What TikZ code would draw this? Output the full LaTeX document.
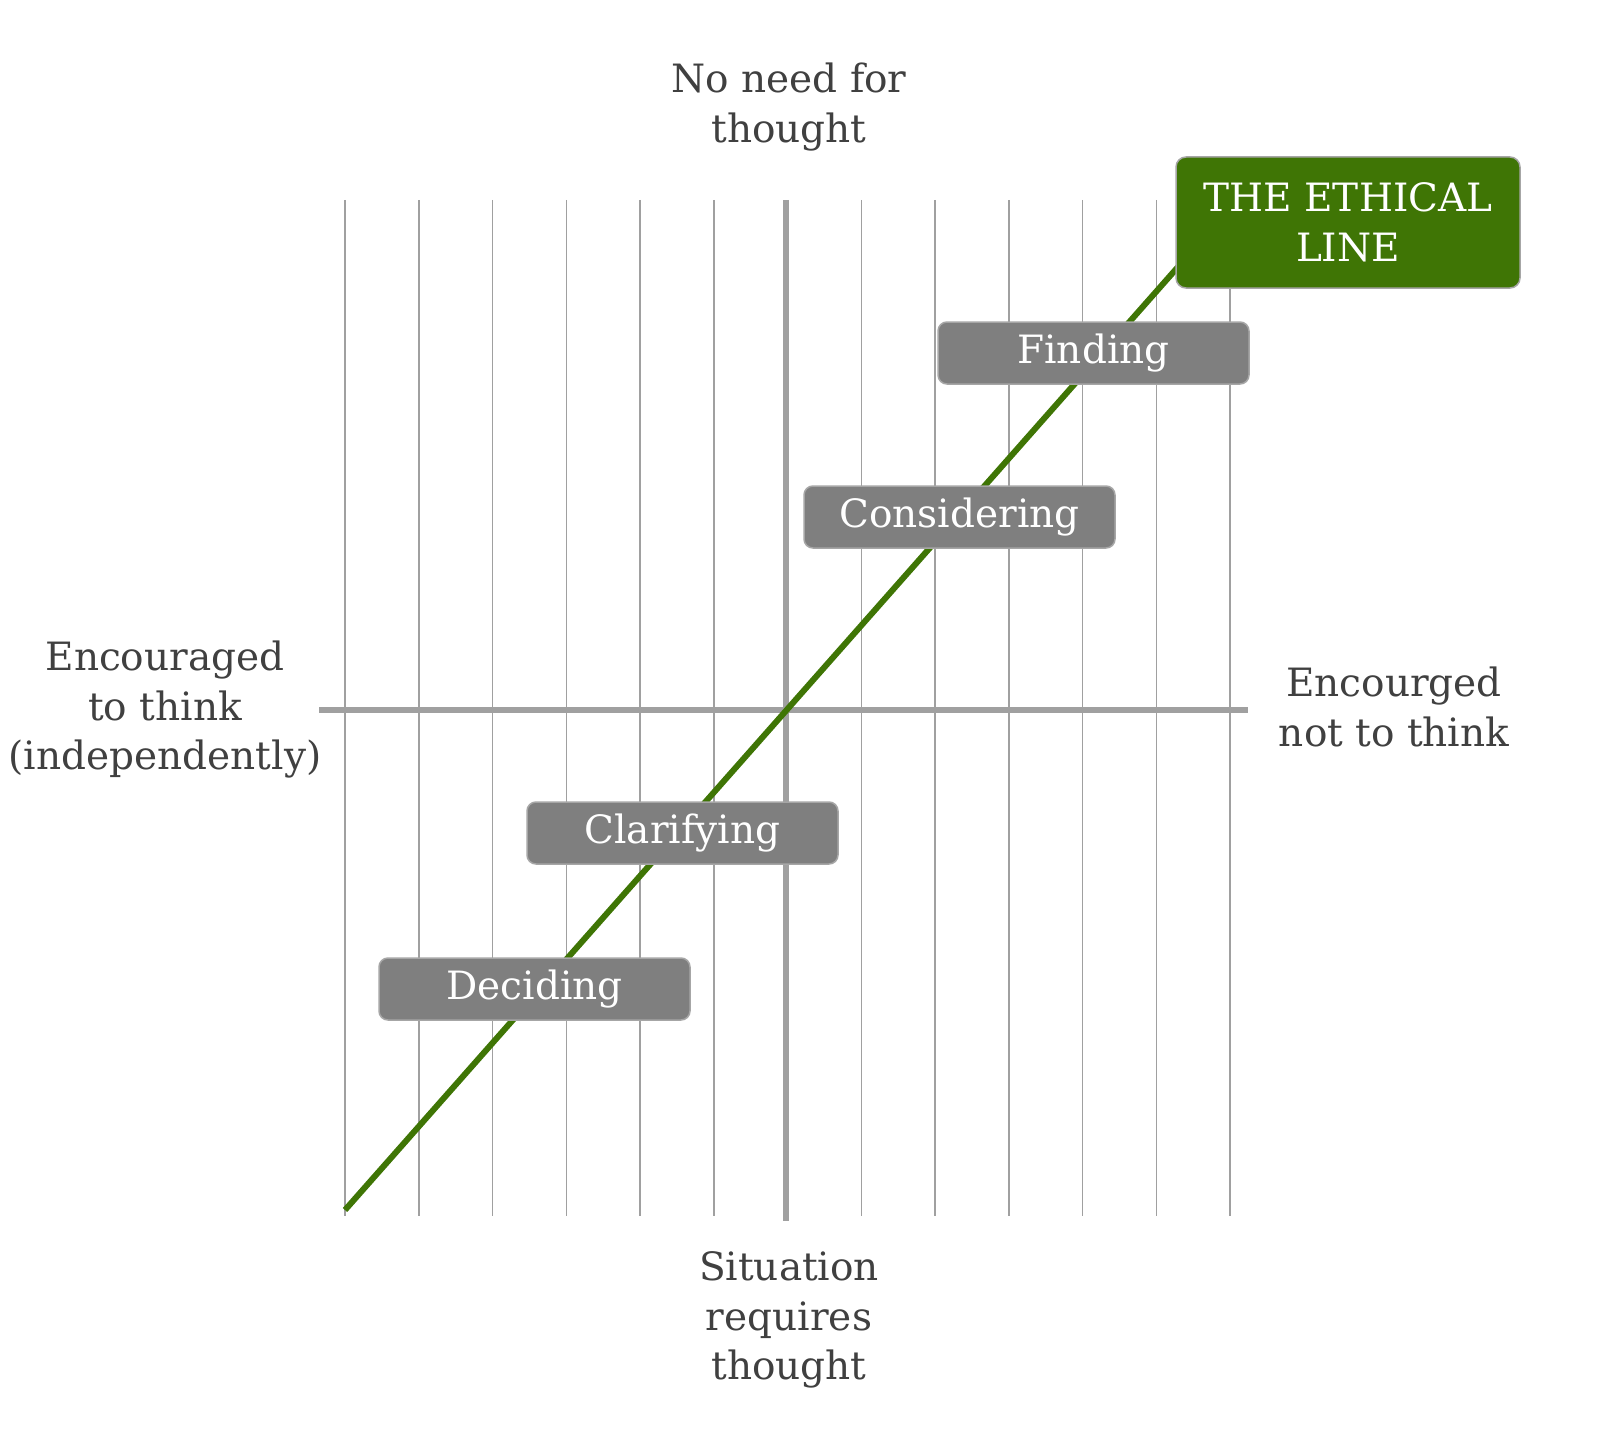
\documentclass[tikz,border=0pt]{standalone}
\usepackage{fontspec}
\setmainfont{DejaVu Serif}
\definecolor{txtgray}{HTML}{404040}
\definecolor{gridgray}{HTML}{A0A0A0}
\definecolor{boxgray}{HTML}{7F7F7F}
\definecolor{boxedge}{HTML}{A6A6A6}
\definecolor{ethgreen}{HTML}{3F7505}
\newcommand{\fs}{\fontsize{39bp}{49.5bp}\selectfont}
\tikzset{
  gridline/.style={draw=gridgray, line width=1.5bp},
  axisline/.style={draw=gridgray, line width=6bp},
  stepbox/.style={draw=boxedge, line width=1.5bp, fill=boxgray, rounded corners=9bp,
    minimum width=311bp, minimum height=62bp, text=white, font=\fs, inner sep=0pt},
  ethbox/.style={draw=boxedge, line width=1.5bp, fill=ethgreen, rounded corners=10bp,
    minimum width=344bp, minimum height=131bp, text=white, font=\fs, align=center, inner sep=0pt},
  lbl/.style={text=txtgray, font=\fs, align=center, inner sep=0pt},
}
\begin{document}
\begin{tikzpicture}[x=1bp,y=-1bp]
\useasboundingbox (0,0) rectangle (1600,1446);
% thin grid lines
\foreach \i in {0,1,2,3,4,5,7,8,9,10,11,12} {
  \draw[gridline] ({345+73.75*\i},200) -- ({345+73.75*\i},1216);
}
% axes
\draw[axisline] (786,200) -- (786,1221);
\draw[axisline] (319,710) -- (1248,710);
% ethical line
\coordinate (lstart) at (345,1210);
\coordinate (lend) at (1200,242);
\draw[draw=ethgreen, line width=6bp] (lstart) -- (lend);
% boxes
\node[stepbox] (finding) at (1093.5,353) {Finding};
\node[stepbox] (considering) at (959.5,517) {Considering};
\node[stepbox] (clarifying) at (682.5,833) {Clarifying};
\node[stepbox] (deciding) at (534.5,989) {Deciding};
\node[ethbox] (eth) at (1348,222.5) {THE ETHICAL\\LINE};
% labels
\node[lbl] (top) at (789,107) {No need for\\thought};
\node[lbl] (left) at (165,710) {Encouraged\\to think\\(independently)};
\node[lbl] (right) at (1394,707) {Encourged\\not to think};
\node[lbl] (bottom) at (789,1320) {Situation\\requires\\thought};
\end{tikzpicture}
\end{document}
